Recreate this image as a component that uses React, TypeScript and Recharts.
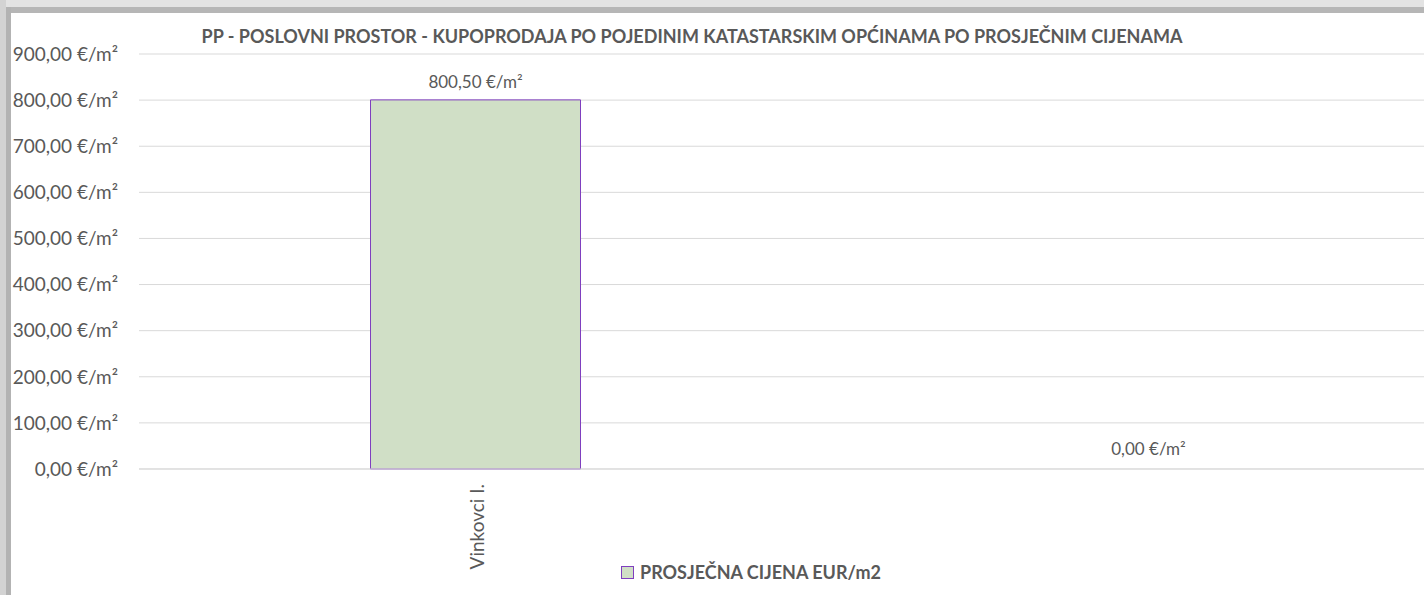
import React from 'react';
import {
  BarChart,
  Bar,
  XAxis,
  YAxis,
  CartesianGrid,
  Legend,
  ReferenceDot,
} from 'recharts';

const categories = ['Vinkovci I.', ' '];
const prices = [800.5, 0];
const yTicks = [0, 100, 200, 300, 400, 500, 600, 700, 800, 900];

const SERIES_NAME = 'PROSJEČNA CIJENA EUR/m2';
const TITLE =
  'PP - POSLOVNI PROSTOR - KUPOPRODAJA PO POJEDINIM KATASTARSKIM OPĆINAMA PO PROSJEČNIM CIJENAMA';

const FONT = 'Lato, "Open Sans", sans-serif';
const TEXT = '#595959';
const BAR_FILL = '#d0dfc6';
const BAR_STROKE = '#7f3fbf';

const data = categories.map((name, i) => ({ name, value: prices[i] }));

const euro = (v: number) => `${v.toFixed(2).replace('.', ',')} €/m²`;

function VerticalTick({ x, y, payload }: any) {
  return (
    <text
      transform={`translate(${x + 8},${y + 7}) rotate(-90)`}
      textAnchor="end"
      fill={TEXT}
      fontSize={19}
      fontFamily={FONT}
    >
      {payload.value}
    </text>
  );
}

// value label drawn above the top of each bar (also for zero-height bars)
function ValueLabel({ viewBox, amount }: any) {
  if (!viewBox) return null;
  const gap = amount === 0 ? 14 : 12;
  return (
    <text
      x={viewBox.x + (viewBox.width || 0) / 2}
      y={viewBox.y - gap}
      textAnchor="middle"
      fill={TEXT}
      fontSize={17}
      fontFamily={FONT}
    >
      {euro(amount)}
    </text>
  );
}

function LegendBox() {
  return (
    <div style={{ display: 'flex', alignItems: 'center', fontFamily: FONT }}>
      <span
        style={{
          width: 11,
          height: 11,
          background: BAR_FILL,
          border: `1px solid ${BAR_STROKE}`,
          marginRight: 6,
        }}
      />
      <span style={{ fontWeight: 700, fontSize: 18, color: TEXT }}>{SERIES_NAME}</span>
    </div>
  );
}

export default function App() {
  return (
    <div
      style={{
        position: 'fixed',
        inset: 0,
        width: 1424,
        height: 595,
        overflow: 'hidden',
        background: '#fff',
      }}
    >
      {/* grey frame, top and left */}
      <div style={{ position: 'absolute', left: 0, top: 0, width: 1424, height: 7, background: '#e3e3e3' }} />
      <div style={{ position: 'absolute', left: 6, top: 7, width: 1418, height: 6, background: '#b6b6b6' }} />
      <div style={{ position: 'absolute', left: 0, top: 0, width: 6, height: 595, background: '#d3d3d3' }} />
      <div style={{ position: 'absolute', left: 6, top: 7, width: 5, height: 588, background: '#b3b3b3' }} />

      <div
        style={{
          position: 'absolute',
          top: 25,
          left: 0,
          width: 1384,
          textAlign: 'center',
          fontFamily: FONT,
          fontWeight: 700,
          fontSize: 18,
          color: TEXT,
        }}
      >
        {TITLE}
      </div>

      <div style={{ position: 'absolute', left: 0, top: 0 }}>
        <BarChart
          width={1500}
          height={595}
          data={data}
          margin={{ top: 54, right: 15, bottom: 26, left: 9 }}
          barCategoryGap="34.4%"
        >
          <CartesianGrid vertical={false} stroke="#d9d9d9" />
          <XAxis
            dataKey="name"
            height={100}
            axisLine={{ stroke: '#d9d9d9' }}
            tickLine={false}
            interval={0}
            tick={<VerticalTick />}
          />
          <YAxis
            width={130}
            domain={[0, 900]}
            ticks={yTicks}
            axisLine={false}
            tickLine={false}
            tickMargin={15}
            tickFormatter={euro}
            tick={{ fill: TEXT, fontSize: 19, fontFamily: FONT }}
          />
          <Legend
            layout="horizontal"
            verticalAlign="middle"
            align="center"
            content={<LegendBox />}
            wrapperStyle={{ left: 621, top: 561, width: 320, height: 22 }}
          />
          <Bar
            dataKey="value"
            name={SERIES_NAME}
            fill={BAR_FILL}
            stroke={BAR_STROKE}
            strokeWidth={1}
            isAnimationActive={false}
          />
          {data.map((d) => (
            <ReferenceDot
              key={`lbl-${d.name}`}
              x={d.name}
              y={d.value}
              r={0}
              fill="none"
              stroke="none"
              ifOverflow="visible"
              label={<ValueLabel amount={d.value} />}
            />
          ))}
        </BarChart>
      </div>
    </div>
  );
}
